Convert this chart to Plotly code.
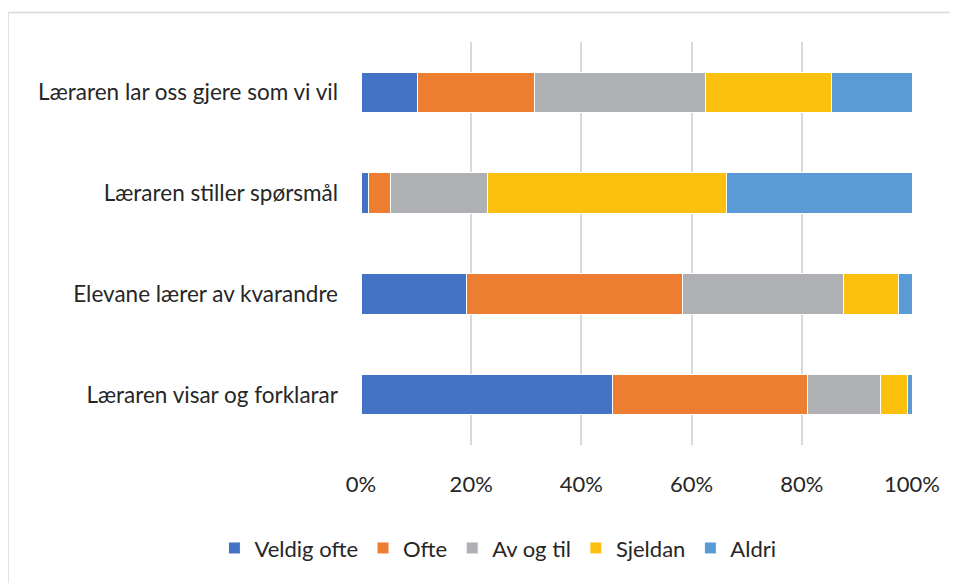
import plotly.graph_objects as go

categories = ["Læraren visar og forklarar", "Elevane lærer av kvarandre",
              "Læraren stiller spørsmål", "Læraren lar oss gjere som vi vil"]
series = ["Veldig ofte", "Ofte", "Av og til", "Sjeldan", "Aldri"]
veldig_ofte = [45.6, 19.1, 1.3, 10.3]
ofte = [35.4, 39.2, 4.0, 21.1]
av_og_til = [13.2, 29.2, 17.6, 31.2]
sjeldan = [4.9, 10.0, 43.4, 22.7]
aldri = [0.9, 2.5, 33.7, 14.7]
values = [veldig_ofte, ofte, av_og_til, sjeldan, aldri]
colors = ["#4472C4", "#ED7D31", "#AFB0B3", "#FCC10F", "#5B9BD5"]

font = "Lato, 'Open Sans', sans-serif"

fig = go.Figure()
for name, vals, col in zip(series, values, colors):
    fig.add_trace(go.Bar(
        y=categories, x=vals, name=name, orientation="h",
        marker=dict(color=col, line=dict(color="white", width=1)),
        width=0.4,
    ))

# chart frame: only top and left edges are visible in the picture
frame = dict(color="#D9D9D9", width=1.5)

# page body adds an 8px offset, so margins are shifted by 8
fig.update_layout(
    barmode="stack",
    width=950, height=575,
    margin=dict(l=353, r=46, t=34, b=137.5),
    paper_bgcolor="white", plot_bgcolor="white",
    font=dict(family=font, size=22, color="#262626"),
    xaxis=dict(range=[0, 100], tickvals=[0, 20, 40, 60, 80, 100],
               ticktext=["0%", "20%", "40%", "60%", "80%", "100%"],
               showgrid=True, gridcolor="#D9D9D9", gridwidth=1.5,
               zeroline=False, showline=False, ticks="",
               ticklabelstandoff=24, tickfont=dict(size=22)),
    yaxis=dict(showgrid=False, showline=False, ticks="",
               ticklabelstandoff=22, tickfont=dict(size=22.5),
               automargin=False),
    legend=dict(orientation="h", x=-0.266, xanchor="left", y=-0.256,
                yanchor="middle", traceorder="normal",
                font=dict(size=22), itemwidth=30),
    showlegend=True,
    shapes=[
        dict(type="line", xref="paper", yref="paper",
             x0=-0.6407, x1=1.1, y0=1.073, y1=1.073, line=frame),
        dict(type="line", xref="paper", yref="paper",
             x0=-0.6407, x1=-0.6407, y0=-0.4, y1=1.073, line=frame),
    ],
)

fig.write_html("out.html")
